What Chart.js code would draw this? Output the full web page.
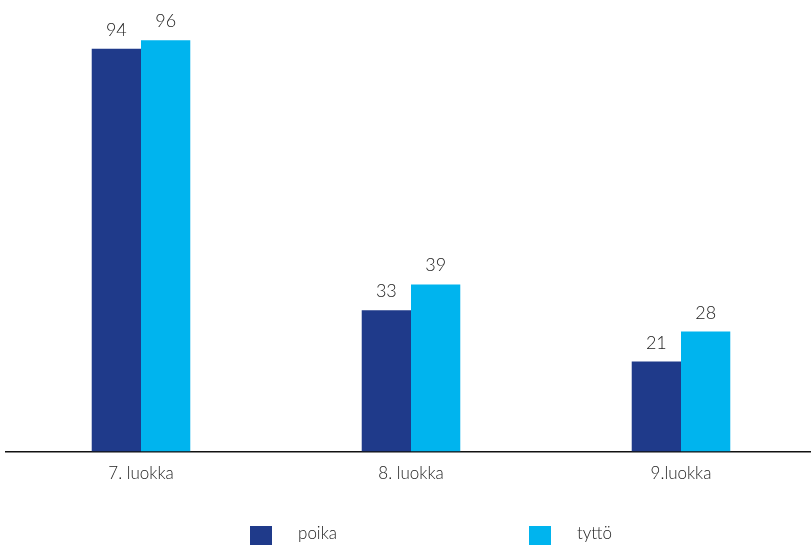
<!DOCTYPE html>
<html lang="fi">
<head>
<meta charset="UTF-8">
<script src="https://cdn.jsdelivr.net/npm/chart.js"></script>
<style>
    html, body { margin: 0; padding: 0; background: #fff; overflow: hidden; }
    #wrap { position: relative; width: 822px; height: 545px; }
</style>
</head>
<body>
<div id="wrap"><canvas id="luokkaChart"></canvas></div>
<script>
// luokat ja arvot
var luokat = ['7. luokka', '8. luokka', '9.luokka'];
var poika = [94, 33, 21];
var tytto = [96, 39, 28];
var sarjat = ['poika', 'tyttö'];
var varit = ['#1F3A8A', '#00B4EE'];

var fontti = 'Lato, "DejaVu Sans", sans-serif';

// arvot pylväiden yläpuolelle
var arvoPlugin = {
    id: 'arvot',
    afterDatasetsDraw: function (chart) {
        var ctx = chart.ctx;
        ctx.save();
        ctx.font = '300 18px ' + fontti;
        ctx.fillStyle = '#222';
        ctx.textAlign = 'center';
        ctx.textBaseline = 'alphabetic';
        chart.data.datasets.forEach(function (ds, i) {
            chart.getDatasetMeta(i).data.forEach(function (bar, j) {
                ctx.fillText(ds.data[j], bar.x, bar.y - 13);
            });
        });
        ctx.restore();
    }
};

// selite alareunaan
var selitePlugin = {
    id: 'selite',
    afterDraw: function (chart) {
        var ctx = chart.ctx;
        var xs = [250, 529];
        ctx.save();
        ctx.font = '300 17px ' + fontti;
        ctx.fillStyle = '#222';
        ctx.textBaseline = 'middle';
        chart.data.datasets.forEach(function (ds, i) {
            ctx.fillStyle = ds.backgroundColor;
            ctx.fillRect(xs[i], 526, 22, 20);
            ctx.fillStyle = '#222';
            ctx.fillText(ds.label, xs[i] + 48, 534);
        });
        ctx.restore();
    }
};

var ctxLuokka = document.getElementById('luokkaChart').getContext('2d');
var luokkaChart = new Chart(ctxLuokka, {
    type: 'bar',
    data: {
        labels: luokat,
        datasets: [
            { label: sarjat[0], data: poika, backgroundColor: varit[0] },
            { label: sarjat[1], data: tytto, backgroundColor: varit[1] }
        ]
    },
    options: {
        responsive: true,
        maintainAspectRatio: false,
        animation: false,
        layout: { padding: { left: 6, right: 6, top: 23, bottom: 49 } },
        categoryPercentage: 0.365,
        barPercentage: 1,
        plugins: {
            legend: { display: false },
            tooltip: { enabled: false }
        },
        scales: {
            y: { display: false, min: 0, max: 100 },
            x: {
                grid: { display: false, drawTicks: false },
                border: { color: '#111', width: 1.5 },
                ticks: { color: '#222', font: { family: fontti, size: 17, weight: 300 }, padding: 12 }
            }
        }
    },
    plugins: [arvoPlugin, selitePlugin]
});
</script>
</body>
</html>
